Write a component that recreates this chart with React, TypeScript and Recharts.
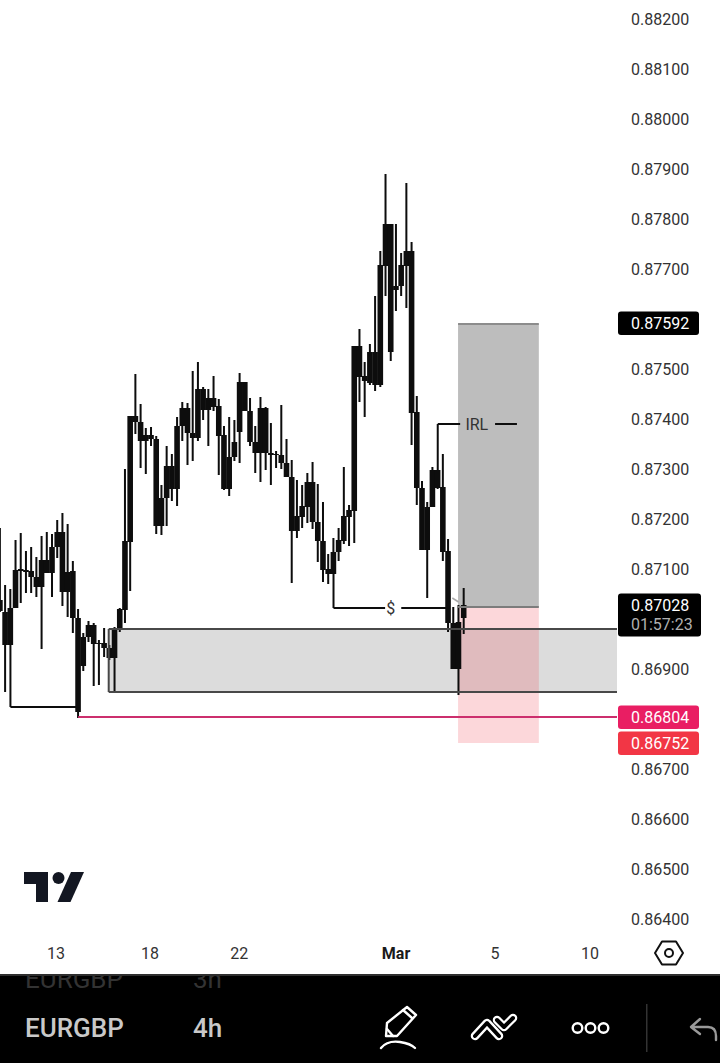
import React from "react";
import { ComposedChart, Bar, XAxis, YAxis, ReferenceArea, ReferenceLine, ReferenceDot } from "recharts";

// all prices below are in units of 0.00001
const highs = [87182,87068,87060,87158,87172,87136,87144,87124,87166,87174,87170,87198,87212,87190,87116,87020,86972,86996,86992,86958,86982,86948,86984,87022,87300,87406,87490,87430,87382,87384,87366,87268,87346,87330,87404,87434,87432,87496,87514,87464,87460,87486,87440,87386,87404,87398,87492,87474,87442,87386,87444,87424,87392,87336,87428,87360,87318,87278,87268,87292,87314,87270,87234,87130,87162,87182,87304,87228,87546,87580,87514,87550,87646,87736,87890,87790,87790,87732,87872,87754,87446,87276,87234,87304,87298,87330,87160,87024,87028,87062];
const bodyTops = [87038,87014,87022,87098,87100,87098,87096,87084,87118,87118,87144,87174,87174,87094,87096,87002,86964,86988,86988,86952,86952,86942,86982,87020,87156,87406,87406,87394,87368,87368,87360,87242,87306,87306,87386,87422,87422,87372,87460,87460,87442,87442,87426,87368,87324,87354,87474,87474,87416,87354,87422,87422,87332,87330,87328,87312,87284,87206,87226,87274,87274,87194,87156,87100,87134,87158,87206,87218,87546,87546,87486,87534,87534,87708,87790,87790,87666,87708,87736,87736,87414,87262,87224,87298,87298,87264,87136,86992,86994,87028];
const bodyBottoms = [87016,86948,86948,87022,87096,87094,87084,87064,87064,87092,87092,87144,87054,87054,87002,86814,86906,86964,86950,86950,86942,86922,86922,86982,87018,87154,87394,87356,87356,87360,87186,87186,87242,87260,87260,87386,87372,87362,87362,87418,87418,87424,87366,87260,87260,87324,87374,87416,87354,87332,87332,87332,87328,87328,87312,87284,87176,87176,87204,87224,87194,87156,87098,87090,87090,87134,87156,87204,87216,87484,87476,87472,87468,87468,87706,87534,87658,87666,87706,87412,87262,87138,87138,87224,87262,87134,86992,86900,86900,87002];
const lows = [87014,86854,86948,87022,87032,87052,87052,87044,86940,87092,87044,87122,87026,87004,86972,86802,86896,86954,86866,86868,86924,86918,86854,86974,86992,87056,87370,87302,87290,87346,87170,87168,87186,87236,87226,87356,87308,87316,87356,87398,87346,87416,87288,87258,87246,87316,87312,87416,87346,87292,87274,87298,87268,87302,87300,87284,87072,87162,87182,87192,87180,87114,87074,87070,87090,87116,87150,87146,87152,87434,87404,87468,87456,87464,87646,87516,87616,87646,87622,87348,87228,87138,87042,87224,87260,87116,86974,86900,86848,86970];

const priceTicks = [88200,88100,88000,87900,87800,87700,87500,87400,87300,87200,87100,86900,86700,86600,86500,86400];
const dateTickPositions = [10.75,28.8,45.9,76,95,113.2];
const dateTickLabels = ["13","18","22","Mar","5","10"];

const P = (v: number) => v / 100000;
const candles = highs.map((h, i) => ({
  i,
  wick: [P(lows[i]), P(h)],
  body: [P(bodyBottoms[i]), P(bodyTops[i])],
}));

const FONT = "Roboto, sans-serif";
const INK = "#0d0d0d";

const centredBar = (w: number) => (p: any) => (
  <rect x={p.x + p.width / 2 - w / 2} y={p.y} width={w} height={Math.max(Math.abs(p.height), 1)} fill={INK} />
);

const DateTick = (props: any) => {
  const idx = dateTickPositions.indexOf(props.payload.value);
  const label = dateTickLabels[idx];
  return (
    <text x={props.x} y={props.y} dy={11} textAnchor="middle" fontFamily={FONT} fontSize={16}
      fontWeight={label === "Mar" ? 700 : 400} fill={label === "Mar" ? "#1a1a1a" : "#333"}>
      {label}
    </text>
  );
};

const badge = (text: string, fill: string, w = 81, sub?: string) => (p: any) => {
  const y = p.viewBox.y;
  const top = y - 11.5;
  const h = sub ? 43 : 23.5;
  return (
    <g>
      <rect x={618} y={top} width={w} height={h} rx={3} fill={fill} />
      <text x={631} y={y + 6} fontFamily={FONT} fontSize={16} fill="#fff">{text}</text>
      {sub && <text x={631} y={y + 25} fontFamily={FONT} fontSize={16} fill="#b0b0b0">{sub}</text>}
    </g>
  );
};

const Seg = (a: number, pa: number, b: number, pb: number, color = "#0d0d0d", w = 2) => (
  <ReferenceLine
    segment={[{ x: a, y: P(pa) }, { x: b, y: P(pb) }]}
    stroke={color}
    strokeWidth={w}
    ifOverflow="extendDomain"
  />
);

const DOM_MAX = 118.4;

export default function App() {
  return (
    <div style={{ position: "absolute", left: 0, top: 0, width: 720, height: 1063, overflow: "hidden", background: "#fff" }}>
      <ComposedChart width={720} height={975} data={candles} barCategoryGap={0} barGap={0} margin={{ top: 0, right: 0, bottom: 0, left: 0 }}>
        <XAxis
          type="number"
          dataKey="i"
          domain={[0, DOM_MAX]}
          allowDataOverflow
          ticks={dateTickPositions}
          interval={0}
          axisLine={false}
          tickLine={false}
          tickSize={0}
          tickMargin={8}
          height={35}
          tick={DateTick}
        />
        <XAxis xAxisId="wicks" type="number" dataKey="i" domain={[0, DOM_MAX]} allowDataOverflow hide />
        <YAxis
          orientation="right"
          type="number"
          domain={[P(86358), P(88238)]}
          allowDataOverflow
          ticks={priceTicks.map(P)}
          interval={0}
          width={103}
          axisLine={false}
          tickLine={false}
          tickSize={0}
          tickMargin={14}
          tickFormatter={(v: number) => v.toFixed(5)}
          tick={{ fontFamily: FONT, fontSize: 16, fill: "#333" }}
        />

        <ReferenceArea x1={20.86} x2={DOM_MAX} y1={P(86854)} y2={P(86980)} fill="#dcdcdc" fillOpacity={1} stroke="none" ifOverflow="hidden" />
        <ReferenceArea x1={87.9} x2={103.4} y1={P(87024)} y2={P(87590)} fill="#bdbdbd" fillOpacity={1} stroke="none" />
        <ReferenceArea x1={87.9} x2={103.4} y1={P(86752)} y2={P(87024)} fill="#f23645" fillOpacity={0.2} stroke="none" />

        {Seg(20.86, 86980, DOM_MAX, 86980, "#484848")}
        {Seg(20.86, 86854, DOM_MAX, 86854, "#484848")}
        {Seg(20.86, 86854, 20.86, 86980, "#484848")}
        {Seg(87.9, 87590, 103.4, 87590, "#8c8c8c")}
        {Seg(87.9, 87024, 103.4, 87024, "#7c7c7c")}
        {Seg(15, 86804, DOM_MAX, 86804, "#cc2f6d")}
        {Seg(2, 86948, 2, 86824)}
        {Seg(2, 86824, 15, 86824)}
        {Seg(64, 87090, 64, 87022)}
        {Seg(64, 87022, 73.9, 87022)}
        {Seg(77, 87022, 85.8, 87022)}
        {Seg(84, 87298, 84, 87390)}
        {Seg(84, 87390, 88.3, 87390)}
        {Seg(95, 87390, 99.2, 87390)}
        {Seg(86.8, 87042, 88, 87034, "#a8a8a8", 1.5)}

        <Bar dataKey="wick" xAxisId="wicks" fill={INK} shape={centredBar(2)} isAnimationActive={false} />
        <Bar dataKey="body" fill={INK} shape={centredBar(5.6)} isAnimationActive={false} />

        <ReferenceDot x={75} y={P(87022)} r={1} fill="none" stroke="none"
          label={{ value: "$", position: "center", fontFamily: FONT, fontSize: 16, fill: "#333" }} />
        <ReferenceDot x={91.5} y={P(87390)} r={1} fill="none" stroke="none"
          label={{ value: "IRL", position: "center", fontFamily: FONT, fontSize: 16, fill: "#333" }} />

        <ReferenceLine y={P(87592)} stroke="none" label={badge("0.87592", "#000")} />
        <ReferenceLine y={P(87028)} stroke="none" label={badge("0.87028", "#000", 83, "01:57:23")} />
        <ReferenceLine y={P(86804)} stroke="none" label={badge("0.86804", "#e91e63")} />
        <ReferenceLine y={P(86752)} stroke="none" label={badge("0.86752", "#f23645")} />
      </ComposedChart>

      {/* logo and settings glyph */}
      <svg width={720} height={975} style={{ position: "absolute", left: 0, top: 0, pointerEvents: "none" }}>
        <path d="M24 872H48V902H36V884H24Z" fill="#131722" />
        <circle cx={58.5} cy={878} r={6} fill="#131722" />
        <path d="M71 872H84L70.5 902H57.5Z" fill="#131722" />
        <path d="M655 953L662 941.5H676L683 953L676 964.5H662Z" fill="none" stroke="#111" strokeWidth={2} strokeLinejoin="round" />
        <circle cx={669} cy={953} r={4} fill="none" stroke="#111" strokeWidth={2} />
      </svg>

      {/* app toolbar */}
      <svg width={720} height={89} viewBox="0 974 720 89" style={{ position: "absolute", left: 0, top: 974 }}>
        <rect x={0} y={974} width={720} height={89} fill="#000" />
        <g fontFamily={FONT} fontSize={26}>
          <g fill="#333">
            <text x={25} y={988}>EURGBP</text>
            <text x={193} y={988}>3h</text>
          </g>
          <g fill="#c9c9c9" fontWeight={500}>
            <text x={25} y={1037}>EURGBP</text>
            <text x={193} y={1037}>4h</text>
          </g>
        </g>
        <rect x={0} y={974} width={720} height={2} fill="#2e2e2e" />
        <g fill="none" stroke="#fff" strokeWidth={2.4} strokeLinejoin="round" strokeLinecap="round">
          <path d="M386 1036L387 1023L407 1007L416 1015L397 1036Z" />
          <path d="M403 1010L412 1018M387 1029L393 1036" />
          <path d="M381 1048C386 1042 393 1041 400 1042C407 1043 412 1045 415 1048" />
          <circle cx={577.5} cy={1028} r={4.8} />
          <circle cx={590.5} cy={1028} r={4.8} />
          <circle cx={603.5} cy={1028} r={4.8} />
        </g>
        <g fill="none" strokeLinecap="round" strokeLinejoin="round">
          <path d="M475 1036L487 1023L499 1036M497 1020L504 1027L513 1018" stroke="#fff" strokeWidth={8.5} />
          <path d="M475 1036L487 1023L499 1036M497 1020L504 1027L513 1018" stroke="#000" strokeWidth={4} />
        </g>
        <rect x={646} y={1004} width={1.5} height={48} fill="#333" />
        <path d="M700 1019L691 1027L700 1034M692 1027H708Q716 1027 716 1036V1040" fill="none" stroke="#999" strokeWidth={2.4} strokeLinecap="round" strokeLinejoin="round" />
      </svg>
    </div>
  );
}
